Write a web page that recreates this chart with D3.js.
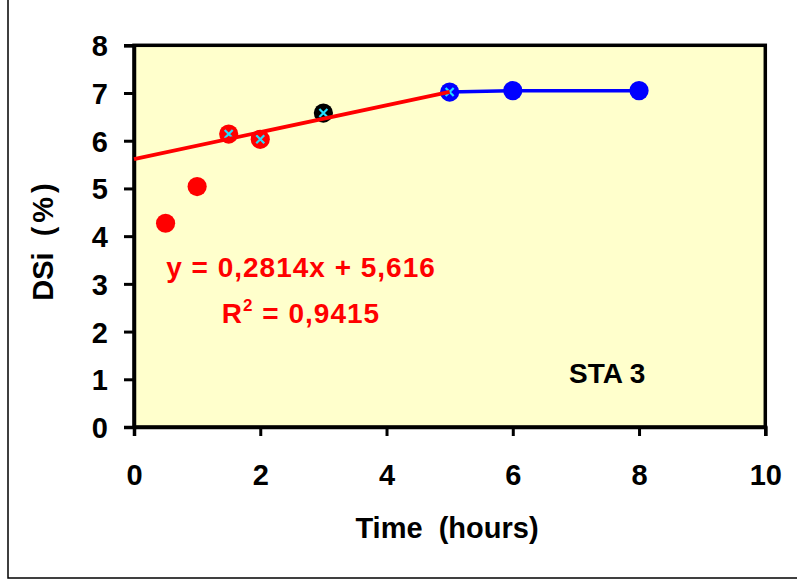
<!DOCTYPE html>
<html>
<head>
<meta charset="utf-8">
<script src="https://cdn.jsdelivr.net/npm/d3@7"></script>
<style>
  html, body { margin: 0; padding: 0; background: #ffffff; }
  svg { display: block; }
  text { font-family: "Liberation Sans", Arial, sans-serif; font-weight: bold; }
</style>
</head>
<body>
<svg id="chart" width="797" height="582"></svg>
<script>
// Dissolution measurements, DSi (%) against time (hours)
const redTime = [0.5, 1, 1.5, 2];
const redDSi = [4.27, 5.04, 6.14, 6.03];
const blackTime = [3];
const blackDSi = [6.58];
const blueTime = [5, 6, 8];
const blueDSi = [7.02, 7.05, 7.05];
// points belonging to the fitted range, shown with cross markers
const crossTime = [1.5, 2, 3, 5];
const crossDSi = [6.14, 6.03, 6.58, 7.02];
// linear fit y = a x + b over 0..5 h
const fitSlope = 0.2814;
const fitIntercept = 5.616;
const fitRange = [0, 5];
const fitLabel = "y = 0,2814x + 5,616";
const r2Label = "0,9415";
const xTicks = [0, 2, 4, 6, 8, 10];
const yTicks = [0, 1, 2, 3, 4, 5, 6, 7, 8];
const sampleLabel = "STA 3";

const svg = d3.select("#chart");
const plotLeft = 134, plotRight = 765.3, plotTop = 45.3, plotBottom = 427;

const x = d3.scaleLinear().domain([0, 10]).range([plotLeft, plotRight]);
const y = d3.scaleLinear().domain([0, 8]).range([plotBottom, plotTop]);

// outer frame
svg.append("rect")
  .attr("x", 8).attr("y", -20).attr("width", 820).attr("height", 598)
  .attr("fill", "none").attr("stroke", "#000").attr("stroke-width", 1.5);

// plot area
svg.append("rect")
  .attr("x", plotLeft).attr("y", plotTop)
  .attr("width", plotRight - plotLeft).attr("height", plotBottom - plotTop)
  .attr("fill", "#FFFFCC").attr("stroke", "#000").attr("stroke-width", 3.5);

// axes
const xAxis = d3.axisBottom(x).tickValues(xTicks).tickSize(9).tickFormat(d3.format("d"));
const yAxis = d3.axisLeft(y).tickValues(yTicks).tickSize(10).tickFormat(d3.format("d"));

const gx = svg.append("g").attr("transform", `translate(0,${plotBottom})`).call(xAxis);
gx.select(".domain").attr("stroke-width", 3.5).attr("stroke", "#000");
gx.selectAll(".tick line").attr("stroke-width", 3).attr("stroke", "#000");
gx.selectAll(".tick text")
  .attr("y", 58).attr("dy", null)
  .attr("font-size", 29).attr("font-family", "Liberation Sans, Arial, sans-serif")
  .attr("font-weight", "bold").attr("fill", "#000");

const gy = svg.append("g").attr("transform", `translate(${plotLeft},0)`).call(yAxis);
gy.select(".domain").attr("stroke-width", 3.5).attr("stroke", "#000");
gy.selectAll(".tick line").attr("stroke-width", 3).attr("stroke", "#000");
gy.selectAll(".tick text")
  .attr("x", -26).attr("dy", "0.36em")
  .attr("font-size", 29).attr("font-family", "Liberation Sans, Arial, sans-serif")
  .attr("font-weight", "bold").attr("fill", "#000");

// axis titles
svg.append("text")
  .attr("x", 447).attr("y", 538)
  .attr("text-anchor", "middle").attr("font-size", 29)
  .attr("xml:space", "preserve")
  .text("Time  (hours)");

const yTitle = svg.append("text")
  .attr("transform", "translate(53,240) rotate(-90)")
  .attr("text-anchor", "middle").attr("font-size", 29)
  .attr("xml:space", "preserve");
yTitle.append("tspan").text("DSi  ");
yTitle.append("tspan").attr("letter-spacing", 4).text("(%)");

// blue plateau line
const line = d3.line().x(d => x(d[0])).y(d => y(d[1]));
svg.append("path")
  .datum(blueTime.map((t, i) => [t, blueDSi[i]]))
  .attr("d", line)
  .attr("fill", "none").attr("stroke", "#0000FF").attr("stroke-width", 3.5);

// circle markers
function dots(times, values, color) {
  svg.append("g").selectAll("circle")
    .data(times.map((t, i) => [t, values[i]]))
    .join("circle")
    .attr("cx", d => x(d[0])).attr("cy", d => y(d[1]))
    .attr("r", 9.6).attr("fill", color);
}
dots(redTime, redDSi, "#FF0000");
dots(blackTime, blackDSi, "#000000");
dots(blueTime, blueDSi, "#0000FF");

// cross markers
const cs = 4;
svg.append("g").selectAll("path")
  .data(crossTime.map((t, i) => [t, crossDSi[i]]))
  .join("path")
  .attr("d", d => {
    const cx = x(d[0]), cy = y(d[1]);
    return `M${cx - cs},${cy - cs}L${cx + cs},${cy + cs}M${cx - cs},${cy + cs}L${cx + cs},${cy - cs}`;
  })
  .attr("stroke", "#22DDFF").attr("stroke-width", 2.2).attr("fill", "none");

// linear trendline
svg.append("path")
  .datum(fitRange.map(t => [t, fitSlope * t + fitIntercept]))
  .attr("d", line)
  .attr("fill", "none").attr("stroke", "#FF0000").attr("stroke-width", 3.8);

// fit equation
svg.append("text")
  .attr("x", 301).attr("y", 277)
  .attr("text-anchor", "middle").attr("font-size", 28).attr("fill", "#FF0000")
  .attr("letter-spacing", 1)
  .text(fitLabel);

const r2 = svg.append("text")
  .attr("x", 301).attr("y", 323)
  .attr("text-anchor", "middle").attr("font-size", 28).attr("fill", "#FF0000")
  .attr("letter-spacing", 1);
r2.append("tspan").text("R");
r2.append("tspan").attr("font-size", 17).attr("dy", -12).text("2");
r2.append("tspan").attr("dy", 12).text(" = " + r2Label);

// sample label
svg.append("text")
  .attr("x", 569).attr("y", 383)
  .attr("font-size", 28).attr("fill", "#000")
  .text(sampleLabel);
</script>
</body>
</html>
